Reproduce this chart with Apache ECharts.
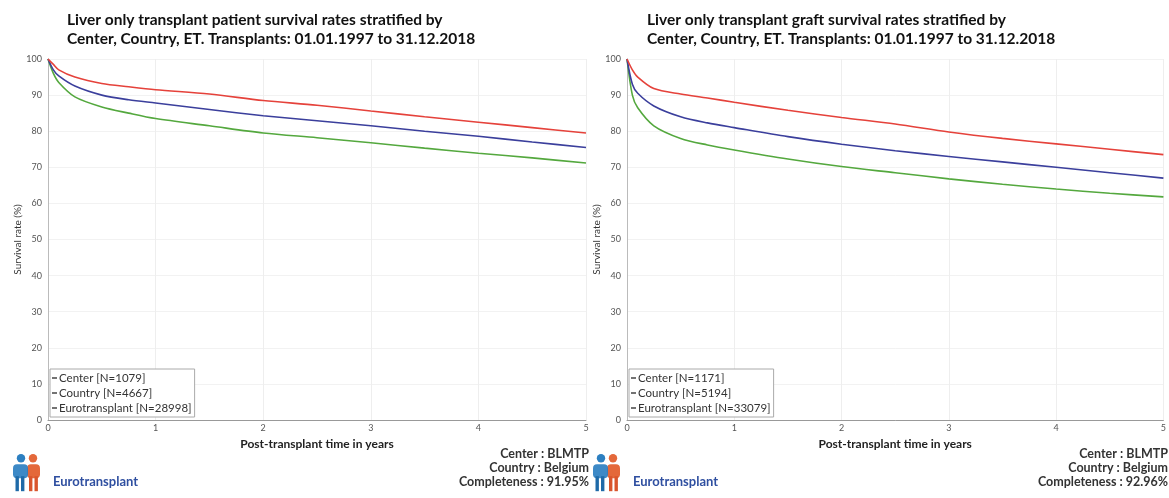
<!DOCTYPE html>
<html>
<head>
<meta charset="utf-8">
<script src="https://cdn.jsdelivr.net/npm/echarts@6/dist/echarts.min.js"></script>
<style>
  html, body { margin: 0; padding: 0; background: #fff; }
  #chart { width: 1169px; height: 498px; }
</style>
</head>
<body>
<div id="chart"></div>
<script>
// Post-transplant time points (years)
const years = [0, 0.05, 0.1, 0.25, 0.5, 0.75, 1, 1.5, 2, 2.5, 3, 3.5, 4, 4.5, 5];
const xTicks = [0, 1, 2, 3, 4, 5];

// Patient survival (%)
const patientCenter  = [100, 98.5, 97.0, 95.0, 93.2, 92.3, 91.5, 90.3, 88.5, 87.2, 85.6, 84.0, 82.5, 81.0, 79.5];
const patientCountry = [100, 97.0, 95.3, 92.5, 90.0, 88.7, 87.8, 86.0, 84.3, 82.9, 81.5, 80.0, 78.6, 77.0, 75.5];
const patientET      = [100, 96.0, 93.5, 89.5, 86.7, 85.0, 83.5, 81.5, 79.5, 78.2, 76.8, 75.3, 73.9, 72.6, 71.2];

// Graft survival (%)
const graftCenter  = [100, 97.0, 95.0, 91.8, 90.3, 89.2, 88.0, 85.8, 83.8, 82.0, 79.8, 78.0, 76.5, 75.0, 73.5];
const graftCountry = [100, 93.0, 90.5, 87.0, 84.0, 82.3, 81.0, 78.5, 76.4, 74.6, 73.0, 71.5, 70.0, 68.5, 67.0];
const graftET      = [100, 90.0, 86.5, 81.5, 78.0, 76.2, 74.8, 72.3, 70.2, 68.5, 66.8, 65.3, 64.0, 62.8, 61.8];

const patientLegend = ['Center [N=1079]', 'Country [N=4667]', 'Eurotransplant [N=28998]'];
const graftLegend   = ['Center [N=1171]', 'Country [N=5194]', 'Eurotransplant [N=33079]'];

const patientTitle = 'Liver only transplant patient survival rates stratified by\nCenter, Country, ET. Transplants: 01.01.1997 to 31.12.2018';
const graftTitle   = 'Liver only transplant graft survival rates stratified by\nCenter, Country, ET. Transplants: 01.01.1997 to 31.12.2018';

const patientInfo = ['Center : BLMTP', 'Country : Belgium', 'Completeness : 91.95%'];
const graftInfo   = ['Center : BLMTP', 'Country : Belgium', 'Completeness : 92.96%'];

const COLORS = ['#e5423b', '#3b3f9c', '#54a83e'];
const FONT = 'Lato, "Open Sans", sans-serif';

const pairs = vals => years.map((t, i) => [t, vals[i]]);

function makeSeries(names, arrays, idx) {
  return arrays.map((vals, k) => ({
    type: 'line',
    name: names[k],
    xAxisIndex: idx,
    yAxisIndex: idx,
    data: pairs(vals),
    smooth: 0.3,
    showSymbol: false,
    lineStyle: { width: 1.6, color: COLORS[k] },
    itemStyle: { color: COLORS[k] },
    z: 3 - k
  }));
}

function xAxis(idx) {
  return {
    type: 'value', gridIndex: idx, min: 0, max: 5, interval: 1,
    name: 'Post-transplant time in years', nameLocation: 'middle', nameGap: 13,
    nameTextStyle: { fontFamily: FONT, fontSize: 12, color: '#222', fontWeight: 'bold' },
    axisLine: { show: true, lineStyle: { color: '#999', width: 1 } },
    axisTick: { show: false },
    axisLabel: { fontFamily: FONT, fontSize: 9, color: '#555', margin: 4,
      formatter: v => xTicks.includes(v) ? String(v) : '' },
    splitLine: { show: true, lineStyle: { color: '#eeeeee', width: 1 } }
  };
}

function yAxis(idx) {
  return {
    type: 'value', gridIndex: idx, min: 0, max: 100, interval: 10,
    name: 'Survival rate (%)', nameLocation: 'middle', nameGap: 22, nameRotate: 90,
    nameTextStyle: { fontFamily: FONT, fontSize: 10, color: '#333' },
    axisLine: { show: true, lineStyle: { color: '#bbb', width: 1 } },
    axisTick: { show: false },
    axisLabel: { fontFamily: FONT, fontSize: 9, color: '#555', margin: 6 },
    splitLine: { show: true, lineStyle: { color: '#f2f2f2', width: 1 } }
  };
}

function legend(names, left) {
  return {
    orient: 'vertical', left: left, top: 369,
    data: names.map(n => ({ name: n, itemStyle: { color: '#444' } })),
    icon: 'rect', itemWidth: 5, itemHeight: 1.5, itemGap: 3,
    padding: [3, 3, 3, 2],
    borderColor: '#aaa', borderWidth: 1, backgroundColor: '#fff',
    textStyle: { fontFamily: FONT, fontSize: 11.5, color: '#333', padding: [0, 0, 0, -3] },
    selectedMode: false
  };
}

// Eurotransplant mark: two stylised figures plus the wordmark
function logo(x) {
  return {
    type: 'group', left: x, top: 454,
    children: [
      { type: 'circle', shape: { cx: 11, cy: 5, r: 4.2 }, style: { fill: '#2c7fc1' } },
      { type: 'circle', shape: { cx: 23, cy: 5, r: 4.2 }, style: { fill: '#e4683a' } },
      { type: 'rect', shape: { x: 17, y: 11, width: 13, height: 14, r: 4 }, style: { fill: '#e4683a' } },
      { type: 'rect', shape: { x: 19, y: 23, width: 3.4, height: 15 }, style: { fill: '#d9552d' } },
      { type: 'rect', shape: { x: 24.5, y: 23, width: 3.4, height: 15 }, style: { fill: '#d9552d' } },
      { type: 'rect', shape: { x: 3, y: 11, width: 15, height: 14, r: 4 }, style: { fill: '#2c7fc1', opacity: 0.92 } },
      { type: 'rect', shape: { x: 5.5, y: 23, width: 3.4, height: 15 }, style: { fill: '#1f6aa8' } },
      { type: 'rect', shape: { x: 11, y: 23, width: 3.4, height: 15 }, style: { fill: '#1f6aa8' } },
      { type: 'text', x: 43, y: 22, style: { text: 'Eurotransplant', fontFamily: FONT, fontSize: 13, fontWeight: 'bold', fill: '#2f4fa0' } }
    ]
  };
}

function infoBlock(lines, right) {
  return lines.map((t, i) => ({
    type: 'text', right: right, top: 447 + i * 14,
    style: { text: t, fontFamily: FONT, fontSize: 12.5, fontWeight: 'bold', fill: '#333', textAlign: 'right' }
  }));
}

const chart = echarts.init(document.getElementById('chart'), null, { renderer: 'canvas' });
chart.setOption({
  animation: false,
  backgroundColor: '#fff',
  title: [
    { text: patientTitle, left: 62, top: 5,
      textStyle: { fontFamily: FONT, fontSize: 15.5, fontWeight: 'bold', color: '#111', lineHeight: 19 } },
    { text: graftTitle, left: 642, top: 5,
      textStyle: { fontFamily: FONT, fontSize: 15.5, fontWeight: 'bold', color: '#111', lineHeight: 19 } }
  ],
  grid: [
    { left: 48, right: 583, top: 59, bottom: 78 },
    { left: 627, right: 4, top: 59, bottom: 78 }
  ],
  xAxis: [xAxis(0), xAxis(1)],
  yAxis: [yAxis(0), yAxis(1)],
  legend: [legend(patientLegend, 50), legend(graftLegend, 629)],
  series: [
    ...makeSeries(patientLegend, [patientCenter, patientCountry, patientET], 0),
    ...makeSeries(graftLegend, [graftCenter, graftCountry, graftET], 1)
  ],
  graphic: [
    logo(13), logo(593),
    ...infoBlock(patientInfo, 580),
    ...infoBlock(graftInfo, 1)
  ]
});
</script>
</body>
</html>
